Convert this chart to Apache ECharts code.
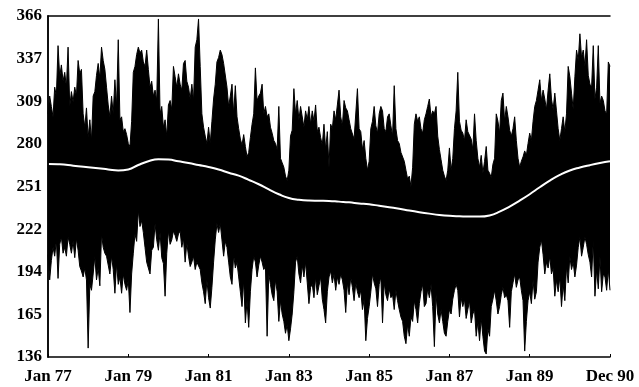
<!DOCTYPE html>
<html>
<head>
<meta charset="utf-8">
<script src="https://cdn.jsdelivr.net/npm/echarts@6/dist/echarts.min.js"></script>
<style>
html, body { margin: 0; padding: 0; background: #fff; }
#main { width: 639px; height: 387px; }
</style>
</head>
<body>
<div id="main"></div>
<script>
// half-month samples, Jan 77 .. Dec 90 (two values per month, one row per year)
var upper = [
    300,312, 305,298, 318,312, 346,325, 333,322, 328,318, 345,305, 315,308, 318,312, 336,327, 330,300, 291,304,
    284,296, 282,312, 315,326, 334,324, 345,336, 330,318, 306,298, 312,300, 323,305, 350,296, 298,288, 290,286,
    280,278, 295,328, 332,340, 345,341, 343,335, 332,343, 330,318, 322,312, 316,309, 364,300, 305,291, 296,285,
    306,309, 303,332, 325,318, 327,320, 316,334, 336,322, 318,310, 320,309, 345,350, 364,332, 300,291, 285,280,
    291,280, 295,310, 320,335, 338,343, 340,334, 334,318, 305,312, 320,300, 319,298, 290,283, 279,286, 278,271,
    274,284, 293,300, 331,309, 312,314, 320,300, 305,298, 300,291, 287,282, 280,276, 305,270, 267,264, 258,255,
    262,285, 289,317, 300,309, 296,305, 305,291, 302,296, 305,293, 302,295, 306,288, 291,284, 279,293, 276,288,
    264,293, 290,302, 296,306, 316,298, 292,309, 304,302, 296,290, 289,283, 284,317, 290,288, 276,282, 270,262,
    268,290, 295,305, 292,287, 300,305, 302,290, 288,298, 300,292, 285,319, 290,282, 280,274, 275,268, 262,256,
    258,251, 264,293, 300,295, 298,290, 287,296, 300,305, 310,298, 302,300, 305,285, 276,269, 262,258, 255,262,
    277,262, 270,290, 302,328, 295,289, 287,282, 296,288, 287,283, 276,300, 282,270, 264,272, 260,268, 278,262,
    260,257, 266,270, 300,295, 287,309, 314,295, 305,298, 289,285, 290,298, 282,270, 264,268, 271,275, 272,280,
    287,282, 295,305, 309,316, 323,309, 316,310, 303,316, 327,310, 303,314, 302,290, 282,290, 298,288, 300,332,
    325,314, 303,325, 343,336, 354,338, 343,332, 350,326, 320,318, 346,310, 318,346, 307,312, 309,302, 300,335,
    332
];
var lower = [
    205,188, 201,210, 204,215, 189,212, 217,206, 210,204, 217,212, 206,214, 203,216, 208,197, 194,190, 196,188,
    142,185, 181,192, 204,188, 196,184, 219,210, 206,204, 198,192, 204,195, 179,199, 185,190, 179,192, 185,181,
    188,166, 192,206, 219,214, 235,224, 228,220, 210,200, 200,192, 208,210, 226,215, 208,220, 203,199, 177,206,
    221,212, 215,221, 218,214, 219,221, 210,216, 200,213, 204,197, 200,204, 195,200, 200,195, 186,180, 172,188,
    176,169, 183,200, 215,226, 220,226, 215,204, 214,210, 200,190, 185,205, 196,200, 190,180, 170,188, 159,174,
    156,180, 195,204, 200,190, 198,204, 200,195, 197,150, 192,185, 178,174, 188,180, 160,174, 165,160, 152,158,
    147,155, 165,180, 200,204, 192,186, 198,190, 200,186, 172,183, 185,176, 190,178, 184,190, 175,168, 159,180,
    190,194, 186,192, 181,190, 185,192, 188,181, 166,186, 178,190, 183,174, 186,180, 176,181, 168,175, 147,162,
    170,180, 192,186, 182,170, 185,190, 159,186, 178,174, 182,176, 178,168, 181,174, 168,163, 160,150, 145,158,
    150,163, 160,174, 168,159, 172,180, 185,170, 172,182, 176,185, 170,143, 178,165, 159,168, 160,152, 150,160,
    168,165, 175,181, 185,181, 163,176, 170,175, 162,168, 174,159, 165,168, 150,160, 147,162, 150,140, 138,155,
    150,170, 175,181, 174,165, 170,178, 183,176, 178,174, 156,180, 186,192, 183,188, 190,181, 174,140, 160,174,
    180,172, 188,175, 180,200, 210,215, 205,192, 200,196, 204,192, 196,177, 188,180, 190,170, 185,174, 197,186,
    204,195, 200,190, 198,210, 217,204, 210,217, 212,205, 200,190, 215,177, 195,182, 204,180, 192,190, 181,195,
    181
];
// smooth trend, one value every 3 months
var trend = [266.2, 266, 265.5, 264.6, 264, 263.3, 262.5, 261.8, 262.5, 265.5, 268, 269.4, 269.2, 268, 266.8,
             265.5, 264.2, 262.5, 260.3, 258.3, 255.5, 252.5, 249, 245.8, 243.2, 242, 241.5, 241.4, 241.3,
             240.8, 240.3, 239.6, 239, 238, 237, 236, 234.8, 233.7, 232.7, 231.8, 231.2, 230.9, 230.7,
             230.7, 231.5, 234, 237.5, 241.5, 245.8, 250.5, 255, 258.8, 261.8, 263.8, 265.4, 266.8, 268];
var xLabels = ['Jan 77', 'Jan 79', 'Jan 81', 'Jan 83', 'Jan 85', 'Jan 87', 'Jan 89', 'Dec 90'];
var yTicks = [136, 165, 194, 222, 251, 280, 309, 337, 366];

var chart = echarts.init(document.getElementById('main'));

function pairs(arr, step){
    var out = [];
    for (var i = 0; i < arr.length; i++)
        out.push([i * step, arr[i]]);
    return out;
}

var font = 'Liberation Serif';
var frame = { show: true, lineStyle: { color: '#000', width: 1.5 } };

chart.setOption({
    animation: false,
    grid: { left: 48, right: 29, top: 16, bottom: 30 },
    xAxis: [{
        type: 'value', min: 0, max: 168, interval: 24, z: 5,
        axisLine: frame,
        axisTick: { show: true, inside: true, length: 3, lineStyle: { color: '#000' } },
        splitLine: { show: false },
        axisLabel: {
            margin: 11, color: '#000', fontFamily: font, fontSize: 17, fontWeight: 'bold',
            formatter: function(v){ return xLabels[Math.round(v / 24)]; }
        }
    }, {
        type: 'value', position: 'top', min: 0, max: 168, z: 5,
        axisLine: frame, axisTick: { show: false }, axisLabel: { show: false }, splitLine: { show: false }
    }],
    yAxis: [{
        type: 'value', min: 136, max: 366, interval: 28.75, z: 5,
        axisLine: frame,
        axisTick: { show: false },
        splitLine: { show: false },
        axisLabel: {
            margin: 6, color: '#000', fontFamily: font, fontSize: 17, fontWeight: 'bold',
            formatter: function(v){ return yTicks[Math.round((v - 136) / 28.75)]; }
        }
    }, {
        type: 'value', position: 'right', min: 136, max: 366, z: 5,
        axisLine: frame, axisTick: { show: false }, axisLabel: { show: false }, splitLine: { show: false }
    }],
    series: [{
        name: 'upper', type: 'line', symbol: 'none', z: 2,
        lineStyle: { color: '#000', width: 1 },
        areaStyle: { color: '#000', opacity: 1, origin: 'start' },
        data: pairs(upper, 0.5)
    }, {
        name: 'lower', type: 'line', symbol: 'none', z: 3,
        lineStyle: { color: '#000', width: 1 },
        areaStyle: { color: '#fff', opacity: 1, origin: 'start' },
        data: pairs(lower, 0.5)
    }, {
        name: 'trend', type: 'line', symbol: 'none', smooth: true, z: 4,
        lineStyle: { color: '#fff', width: 2 },
        data: pairs(trend, 3)
    }]
});
</script>
</body>
</html>
